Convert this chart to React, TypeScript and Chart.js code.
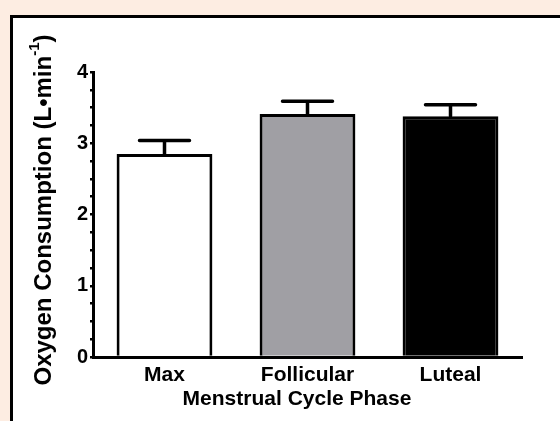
import React, { useEffect, useRef } from 'react';
import { Chart, registerables } from 'chart.js';

Chart.register(...registerables);

const categories = ['Max', 'Follicular', 'Luteal'];
const means = [2.85, 3.41, 3.38];
const sems = [0.19, 0.18, 0.16];
const barColors = ['#ffffff', '#a09fa4', '#000000'];
const yMin = 0;
const yMax = 4;
const yMinorStep = 0.25;
const yTitleMain = 'Oxygen Consumption (L\u2022min';
const yTitleSup = '-1';
const yTitleEnd = ')';
const xTitle = 'Menstrual Cycle Phase';

const FONT = 'Arial, "Liberation Sans", Helvetica, sans-serif';

const backgroundPlugin = {
  id: 'panelBg',
  beforeDraw(chart: any) {
    const { ctx, width, height } = chart;
    ctx.save();
    ctx.fillStyle = '#fdede2';
    ctx.fillRect(0, 0, width, height);
    ctx.fillStyle = '#ffffff';
    ctx.fillRect(11, 16, width, height);
    ctx.strokeStyle = '#000';
    ctx.lineWidth = 3;
    ctx.beginPath();
    ctx.moveTo(11.5, height + 5);
    ctx.lineTo(11.5, 16.5);
    ctx.lineTo(width + 5, 16.5);
    ctx.stroke();
    ctx.restore();
  },
};

const errorBarPlugin = {
  id: 'errorBars',
  afterDatasetsDraw(chart: any) {
    const { ctx } = chart;
    const meta = chart.getDatasetMeta(0);
    const y = chart.scales.y;
    ctx.save();
    ctx.strokeStyle = '#000';
    ctx.lineWidth = 3.5;
    ctx.lineCap = 'round';
    meta.data.forEach((bar: any, i: number) => {
      const x = bar.x;
      const top = y.getPixelForValue(means[i]);
      const cap = y.getPixelForValue(means[i] + sems[i]);
      ctx.beginPath();
      ctx.moveTo(x, top);
      ctx.lineTo(x, cap);
      ctx.moveTo(x - 25, cap);
      ctx.lineTo(x + 25, cap);
      ctx.stroke();
    });
    ctx.restore();
  },
};

const titlesPlugin = {
  id: 'titles',
  afterDraw(chart: any) {
    const { ctx } = chart;
    const mainFont = `bold 24px ${FONT}`;
    const supFont = `bold 15px ${FONT}`;
    ctx.save();
    ctx.fillStyle = '#000';
    // x title
    ctx.font = `bold 21px ${FONT}`;
    ctx.textAlign = 'center';
    ctx.textBaseline = 'alphabetic';
    ctx.fillText(xTitle, 297, 405);
    // y title
    ctx.font = mainFont;
    const w1 = ctx.measureText(yTitleMain).width;
    const w3 = ctx.measureText(yTitleEnd).width;
    ctx.font = supFont;
    const w2 = ctx.measureText(yTitleSup).width;
    const total = w1 + w2 + w3;
    const cx = 44;
    const cy = 210;
    ctx.translate(cx, cy);
    ctx.rotate(-Math.PI / 2);
    ctx.textBaseline = 'middle';
    ctx.textAlign = 'left';
    let x = -total / 2;
    ctx.font = mainFont;
    ctx.fillText(yTitleMain, x, 0);
    x += w1;
    ctx.font = supFont;
    ctx.fillText(yTitleSup, x, -9);
    x += w2;
    ctx.font = mainFont;
    ctx.fillText(yTitleEnd, x, 0);
    ctx.restore();
  },
};

export default function App() {
  const ref = useRef<HTMLCanvasElement>(null);
  useEffect(() => {
    if (!ref.current) return;
    const chart = new Chart(ref.current, {
      type: 'bar',
      data: {
        labels: categories,
        datasets: [
          {
            data: means,
            backgroundColor: barColors,
            borderColor: '#000',
            borderWidth: 3,
            categoryPercentage: 1,
            barPercentage: 0.67,
          },
        ],
      },
      options: {
        animation: false,
        responsive: false,
        devicePixelRatio: 1,
        layout: { padding: { top: 72, right: 38, bottom: 0, left: 0 } },
        plugins: { legend: { display: false }, tooltip: { enabled: false } },
        scales: {
          x: {
            afterFit(scale: any) {
              scale.height = 64;
            },
            grid: { display: false, tickLength: 0 },
            border: { display: true, color: '#000', width: 3 },
            ticks: {
              color: '#000',
              font: { family: FONT, size: 21, weight: 'bold' },
              padding: 6,
              maxRotation: 0,
            },
          },
          y: {
            min: yMin,
            max: yMax,
            afterFit(scale: any) {
              scale.width = 93;
            },
            grid: {
              display: true,
              drawOnChartArea: false,
              drawTicks: true,
              tickLength: 3,
              color: '#000',
              lineWidth: 2.5,
            },
            border: { display: true, color: '#000', width: 3 },
            ticks: {
              stepSize: yMinorStep,
              autoSkip: false,
              color: '#000',
              padding: 2,
              font: { family: FONT, size: 20, weight: 'bold' },
              callback: (v: any) => (Number.isInteger(Number(v)) ? String(v) : ''),
            },
          },
        },
      },
      plugins: [backgroundPlugin, errorBarPlugin, titlesPlugin],
    });
    return () => chart.destroy();
  }, []);
  return (
    <div style={{ position: 'fixed', left: 0, top: 0, width: 560, height: 421 }}>
      <canvas ref={ref} width={560} height={421} style={{ display: 'block' }} />
    </div>
  );
}
